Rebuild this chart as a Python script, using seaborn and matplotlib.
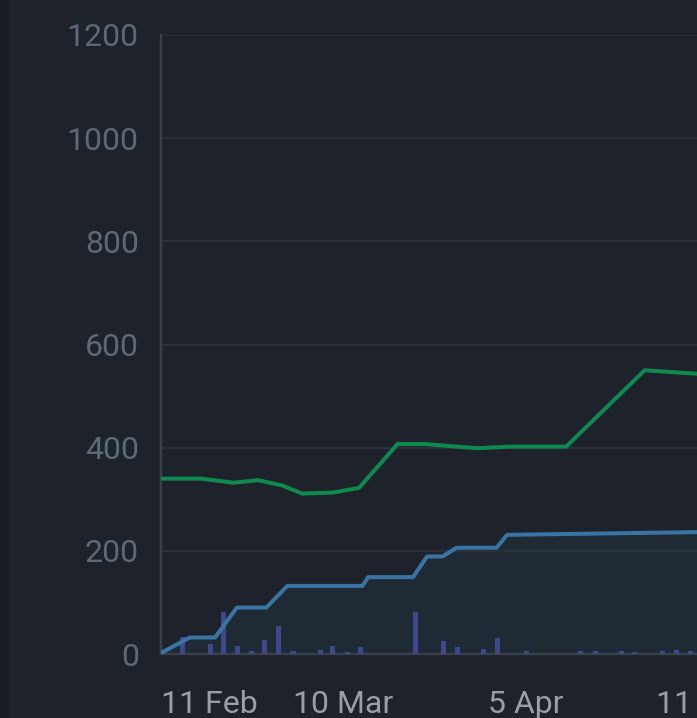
import matplotlib
matplotlib.use("Agg")
import matplotlib.pyplot as plt
import seaborn as sns
from matplotlib.patches import Rectangle

# cumulative / total series, x in category steps (26 steps between labels)
green_x = [0, 5.8, 10.3, 13.8, 17.2, 20.1, 24.5, 28.2, 33.7, 37.6, 41.2, 45.0, 49.7, 57.7, 68.9, 80.0]
green_y = [340, 340, 332, 337, 327, 311, 313, 322, 407, 407, 403, 399, 402, 402, 550, 540]

blue_x = [0, 4.1, 7.7, 10.8, 15.0, 18.0, 28.7, 29.5, 35.9, 37.9, 40.1, 42.1, 47.8, 49.3, 80.0]
blue_y = [2, 32, 32, 90, 90, 132, 132, 149, 149, 189, 189, 206, 206, 231, 237]

bar_x = [3.0, 7.0, 8.9, 10.9, 12.9, 14.8, 16.8, 18.8, 22.7, 24.4, 26.6, 28.4, 36.2,
         40.2, 42.2, 45.9, 48.0, 52.0, 59.7, 61.9, 65.6, 67.5, 71.5, 73.4, 75.4]
bar_y = [33, 19, 81, 15, 6, 27, 55, 5, 7, 15, 4, 13, 81,
         25, 13, 10, 31, 5, 5, 6, 5, 4, 6, 8, 5]

tick_pos = [0, 26, 52, 78]
tick_labels = ["11 Feb", "10 Mar", "5 Apr", "11 May"]
y_ticks = [0, 200, 400, 600, 800, 1000, 1200]

BG = "#1e222a"
GRID = "#2a303a"
AXIS = "#37404c"

sns.set_theme(style="dark")
plt.rcParams["font.family"] = ["Roboto", "DejaVu Sans"]

fig = plt.figure(figsize=(6.97, 7.18), dpi=100, facecolor=BG)
fig.patches.append(Rectangle((0, 0), 9 / 697, 1, transform=fig.transFigure,
                             facecolor="#1a1e24", edgecolor="none", zorder=0))

px = 7.02  # pixels per x step
ax = fig.add_axes([161 / 697, 64 / 718, 90 * px / 697, 619 / 718])
ax.set_facecolor(BG)

ax.fill_between(blue_x, blue_y, 0, color="#202a34", lw=0, zorder=0.2)
ax.bar(bar_x, bar_y, width=0.72, color="#3e488c", edgecolor="none", linewidth=0, zorder=2)
sns.lineplot(x=blue_x, y=blue_y, ax=ax, color="#3a74a4", linewidth=2.9, zorder=3)
sns.lineplot(x=green_x, y=green_y, ax=ax, color="#0e8a50", linewidth=2.9, zorder=3)

ax.set_xlim(0, 90)
ax.set_ylim(0, 1200)
ax.set_yticks(y_ticks)
ax.set_xticks(tick_pos)
ax.set_xticklabels(tick_labels)
ax.get_xticklabels()[0].set_horizontalalignment("left")

ax.grid(axis="y", color=GRID, linewidth=1.6)
ax.grid(axis="x", visible=False)
ax.set_axisbelow(True)

for s in ["top", "right"]:
    ax.spines[s].set_visible(False)
for s in ["left", "bottom"]:
    ax.spines[s].set_color(AXIS)
    ax.spines[s].set_linewidth(1.7)
    ax.spines[s].set_zorder(1)

ax.tick_params(axis="y", length=0, pad=16, labelsize=23, labelcolor="#5c6977")
ax.tick_params(axis="x", length=13, width=2.0, color=AXIS, pad=13,
               labelsize=23, labelcolor="#9a9fa6")
ax.set_xlabel("")
ax.set_ylabel("")

fig.savefig("out.png", dpi=100, facecolor=BG)
